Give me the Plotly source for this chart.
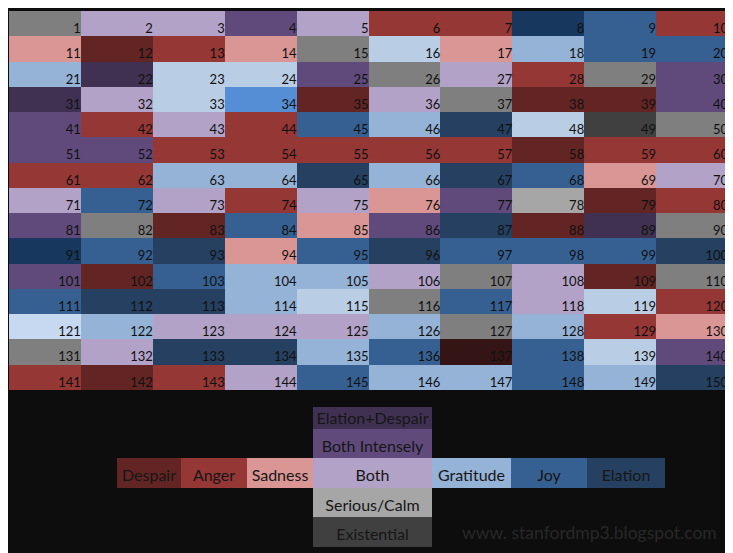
import plotly.graph_objects as go

# category code -> (name, colour); the last few codes have no legend entry
CATEGORY_CODES = ["D", "A", "S", "B", "I", "X", "G", "J", "E", "C", "T", "N", "L", "P", "K", "V", "R"]
CATEGORY_NAMES = [
  "Despair", "Anger", "Sadness", "Both", "Both Intensely", "Elation+Despair",
  "Gratitude", "Joy", "Elation", "Serious/Calm", "Existential",
  "Unrated", "Light Gratitude", "Pale Gratitude", "Bright Joy", "Deep Elation", "Deep Despair",
]
CATEGORY_COLORS = [
  "#632523", "#953735", "#d99694", "#b3a2c7", "#604a7b", "#403152",
  "#95b3d7", "#376092", "#254061", "#a6a6a6", "#404040",
  "#7f7f7f", "#b9cde5", "#c6d9f1", "#558ed5", "#17375e", "#341414",
]

# one string per row of the grid, one code per track (1..150, left to right)
CELL_CODES = [
  "NBBIBAAVJA",
  "SDASNLSGJJ",
  "GXLLINBANI",
  "XBLKDBNDDI",
  "IABAJGELTN",
  "IIAAAAADAA",
  "AAGGEGEJSB",
  "BJBABSICDA",
  "INDJSIEDXN",
  "VJESJEJJJE",
  "IDJGGBNBDN",
  "JEEGLNJBLA",
  "PGBBBGNGAS",
  "NBEEGJRJLI",
  "ADABJGGJGE",
]
TRACK_NUMBERS = list(range(1, 151))

# legend cross: horizontal strip plus the column above / below "Both"
LEGEND_ROW = ["Despair", "Anger", "Sadness", "Both", "Gratitude", "Joy", "Elation"]
LEGEND_ABOVE = ["Elation+Despair", "Both Intensely"]
LEGEND_BELOW = ["Serious/Calm", "Existential"]

WATERMARK = "www. stanfordmp3.blogspot.com"

# page is 733x553 but the body has an 8px margin, so the figure is shifted
PAGE_W, PAGE_H = 733, 553
OFF = 8
W, H = PAGE_W - OFF, PAGE_H - OFF
BG = "#0d0d0d"
FONT = "Lato"


def px_x(a, b):
  return [(a - OFF) / W, (b - OFF) / W]


def px_y(a, b):
  return [1 - (b - OFF) / H, 1 - (a - OFF) / H]


def main():
  n_cat = len(CATEGORY_CODES)
  code_idx = {c: i for i, c in enumerate(CATEGORY_CODES)}
  name_idx = {n: i for i, n in enumerate(CATEGORY_NAMES)}

  colorscale = []
  for i, col in enumerate(CATEGORY_COLORS):
    colorscale.append([i / n_cat, col])
    colorscale.append([(i + 1) / n_cat, col])

  # -------------------------------------
  # Main grid
  # -------------------------------------
  z = [[code_idx[c] + 0.5 for c in row] for row in CELL_CODES]
  n_rows = len(CELL_CODES)
  n_cols = len(CELL_CODES[0])

  fig = go.Figure()
  fig.add_trace(go.Heatmap(
    z=z,
    colorscale=colorscale,
    zmin=0, zmax=n_cat,
    showscale=False,
    hoverinfo="skip",
  ))

  tx, ty, tt = [], [], []
  for k, num in enumerate(TRACK_NUMBERS):
    r, c = divmod(k, n_cols)
    tx.append(c + 0.5)
    ty.append(r + 0.5)
    tt.append(str(num))
  fig.add_trace(go.Scatter(
    x=tx, y=ty, text=tt,
    mode="text",
    textposition="top left",
    textfont=dict(family=FONT, size=13, color="#111111"),
    hoverinfo="skip",
    cliponaxis=False,
  ))

  # -------------------------------------
  # Legend cross
  # -------------------------------------
  center = LEGEND_ROW.index("Both")
  pad_l = [None] * center
  pad_r = [None] * (len(LEGEND_ROW) - center - 1)
  legend_rows = (
    [pad_l + [n] + pad_r for n in LEGEND_ABOVE]
    + [LEGEND_ROW]
    + [pad_l + [n] + pad_r for n in LEGEND_BELOW]
  )
  lz = [[None if n is None else name_idx[n] + 0.5 for n in row] for row in legend_rows]

  # box edges in pixels, relative to the legend's top-left corner
  x_edges = [0, 64, 130, 196, 315, 394, 470, 548]
  y_edges = [0, 22, 51, 81, 110, 140]

  fig.add_trace(go.Heatmap(
    z=lz, x=x_edges, y=y_edges,
    colorscale=colorscale,
    zmin=0, zmax=n_cat,
    showscale=False,
    hoverinfo="skip",
    xaxis="x2", yaxis="y2",
  ))

  lx, ly, lt = [], [], []
  for r, row in enumerate(legend_rows):
    for c, n in enumerate(row):
      if n is None:
        continue
      lx.append((x_edges[c] + x_edges[c + 1]) / 2)
      # labels sit a little below the box centre
      ly.append((y_edges[r] + y_edges[r + 1]) / 2 + (2 if r == 0 else 4))
      lt.append(n)
  fig.add_trace(go.Scatter(
    x=lx, y=ly, text=lt,
    mode="text",
    textfont=dict(family=FONT, size=16, color="#161616"),
    hoverinfo="skip",
    xaxis="x2", yaxis="y2",
  ))

  no_axis = dict(visible=False, showgrid=False, zeroline=False, fixedrange=True)
  fig.update_layout(
    width=W, height=H,
    autosize=False,
    margin=dict(l=0, r=0, t=0, b=0),
    paper_bgcolor=BG,
    plot_bgcolor=BG,
    showlegend=False,
    xaxis=dict(no_axis, domain=px_x(9, 728), range=[-0.5, n_cols - 0.5]),
    yaxis=dict(no_axis, domain=px_y(11, 390), range=[n_rows - 0.5, -0.5]),
    xaxis2=dict(no_axis, domain=px_x(117, 665), range=[0, x_edges[-1]], anchor="y2"),
    yaxis2=dict(no_axis, domain=px_y(407, 547), range=[y_edges[-1], 0], anchor="x2"),
    annotations=[dict(
      text=WATERMARK,
      xref="paper", yref="paper",
      x=(719 - OFF) / W, y=1 - (532 - OFF) / H,
      xanchor="right", yanchor="middle",
      showarrow=False,
      font=dict(family=FONT, size=17.5, color="#282828"),
    )],
  )

  fig.write_html("out.html")


if __name__ == "__main__":
  main()
